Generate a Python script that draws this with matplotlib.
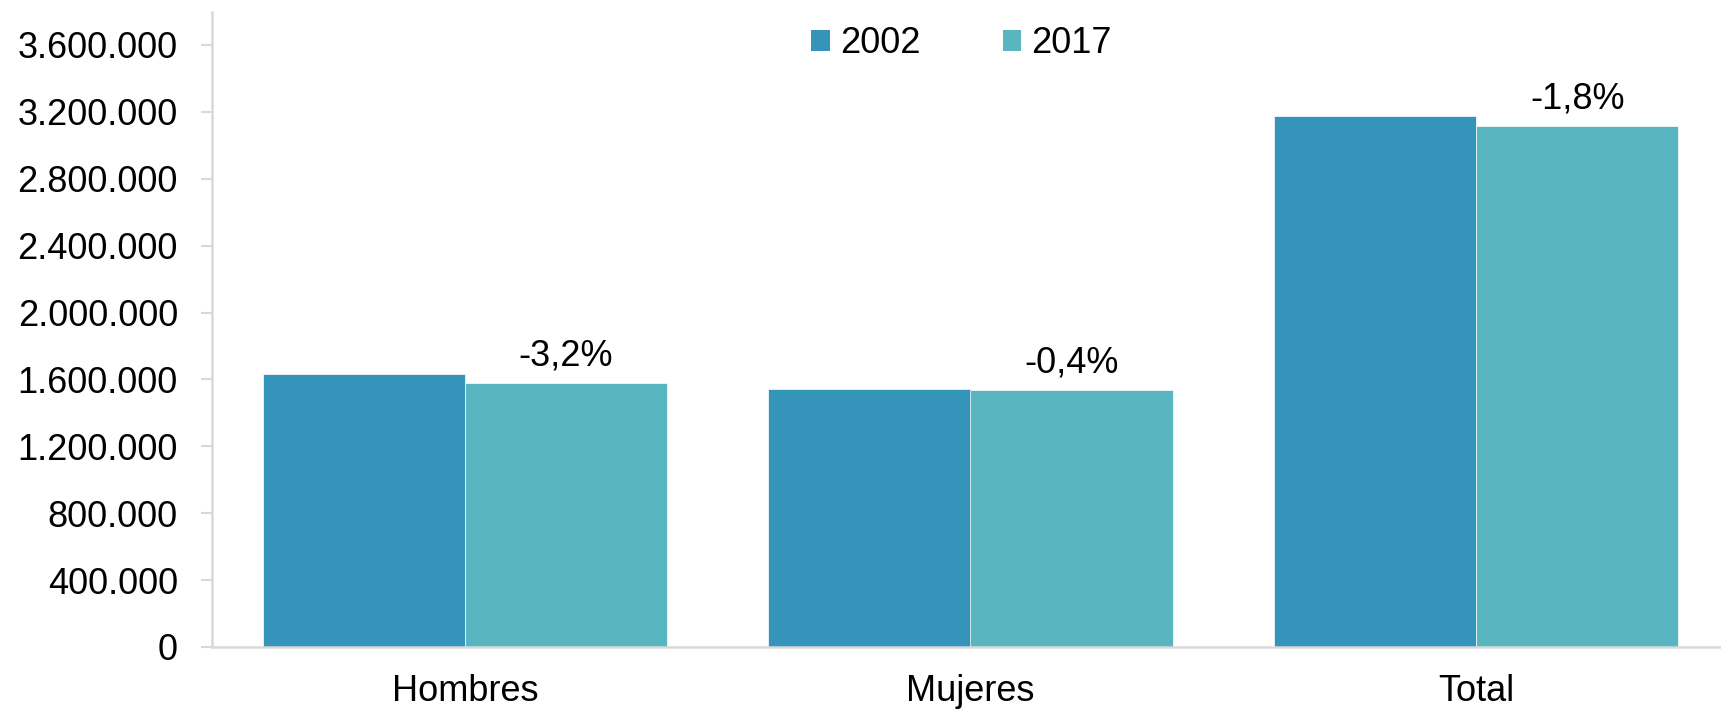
import matplotlib
matplotlib.use("Agg")
import matplotlib.pyplot as plt
import numpy as np
from matplotlib.patches import Patch
from matplotlib.ticker import FuncFormatter

plt.rcParams['font.family'] = ['Liberation Sans', 'DejaVu Sans']

categories = ["Hombres", "Mujeres", "Total"]
series_names = ["2002", "2017"]
values_2002 = [1632000, 1543000, 3175000]
values_2017 = [1579000, 1537000, 3116000]
change_labels = ["-3,2%", "-0,4%", "-1,8%"]
y_ticks = [0, 400000, 800000, 1200000, 1600000, 2000000, 2400000, 2800000, 3200000, 3600000]

colors = ["#3594BA", "#59B6C0"]
FS = 26

fig = plt.figure(figsize=(17.21, 7.09), dpi=100)
ax = fig.add_axes([212/1721, 62/709, (1729 - 212)/1721, (647 - 11.5)/709])

x = np.arange(len(categories))
w = 0.4
b1 = ax.bar(x - w/2, values_2002, width=w, color=colors[0], edgecolor='white', linewidth=0.5)
b2 = ax.bar(x + w/2, values_2017, width=w, color=colors[1], edgecolor='white', linewidth=0.5)

for rect, lab in zip(b2, change_labels):
    ax.annotate(lab, xy=(rect.get_x() + rect.get_width()/2, rect.get_height()),
                xytext=(0, 12.3), textcoords='offset points',
                ha='center', va='baseline', fontsize=FS, color='black')

ax.set_xlim(-0.5, len(categories) - 0.5)
ax.set_ylim(0, 3800000)
ax.set_yticks(y_ticks)
ax.yaxis.set_major_formatter(FuncFormatter(lambda v, p: f"{int(v):,}".replace(",", ".")))
ax.set_xticks(x)
ax.set_xticklabels(categories)

for s in ['top', 'right']:
    ax.spines[s].set_visible(False)
for s in ['left', 'bottom']:
    ax.spines[s].set_color('#d9d9d9')
    ax.spines[s].set_linewidth(1.8)

ax.tick_params(axis='y', length=8, width=1.5, color='#d9d9d9', pad=16.5, labelsize=FS, labelcolor='black')
ax.tick_params(axis='x', length=0, pad=19.5, labelsize=FS, labelcolor='black')

handles = [Patch(facecolor=colors[0], edgecolor='none'), Patch(facecolor=colors[1], edgecolor='none')]
fig.legend(handles, series_names, loc='center', bbox_to_anchor=(961.5/1721, 1 - 43.5/709),
           ncol=2, frameon=False, fontsize=FS, handlelength=0.52, handleheight=0.52,
           handletextpad=0.28, columnspacing=2.28, borderpad=0, borderaxespad=0)

fig.savefig("out.png", dpi=100)
